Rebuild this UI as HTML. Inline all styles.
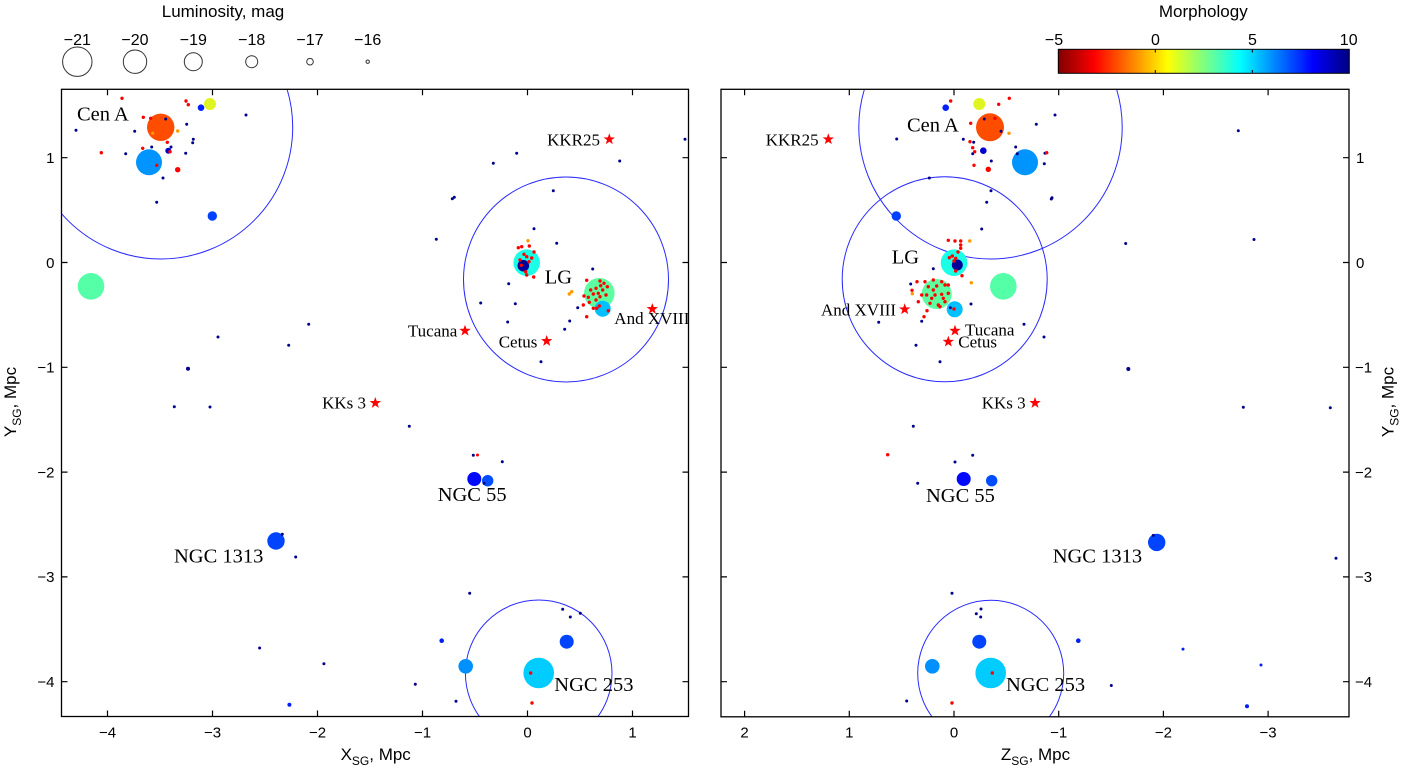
<!DOCTYPE html>
<html><head><meta charset="utf-8"><style>body{margin:0;background:#fff}svg{display:block}</style></head>
<body>
<svg width="1407" height="772" viewBox="0 0 1407 772" xmlns="http://www.w3.org/2000/svg">
<defs>
<clipPath id="cl"><rect x="61.5" y="89.3" width="627" height="627.2"/></clipPath>
<clipPath id="cr"><rect x="721" y="89.3" width="628" height="627.5"/></clipPath>
<linearGradient id="jet" x1="0" y1="0" x2="1" y2="0">
<stop offset="0" stop-color="#800000"/><stop offset="0.125" stop-color="#ff0000"/><stop offset="0.375" stop-color="#ffff00"/><stop offset="0.625" stop-color="#00ffff"/><stop offset="0.875" stop-color="#0000ff"/><stop offset="1" stop-color="#000080"/>
</linearGradient>
<path id="star" d="M0,-6 L1.411,-1.942 L5.706,-1.854 L2.283,0.742 L3.527,4.854 L0,2.4 L-3.527,4.854 L-2.283,0.742 L-5.706,-1.854 L-1.411,-1.942 Z" fill="#ff0000"/>
</defs>

<!-- Luminosity legend -->
<g font-family="Liberation Sans, Arial, sans-serif" fill="#000">
<text x="223" y="17" font-size="17" text-anchor="middle">Luminosity, mag</text>
<g font-size="16" text-anchor="middle">
<text x="77.3" y="45">−21</text><text x="135" y="45">−20</text><text x="193.3" y="45">−19</text><text x="251.7" y="45">−18</text><text x="310" y="45">−17</text><text x="367.7" y="45">−16</text>
</g>
<text x="1203.3" y="17" font-size="17" text-anchor="middle">Morphology</text>
<g font-size="16" text-anchor="middle">
<text x="1054" y="45">−5</text><text x="1155.5" y="45">0</text><text x="1252.5" y="45">5</text><text x="1348.7" y="45">10</text>
</g>
</g>
<g fill="none" stroke="#333" stroke-width="1">
<circle cx="77.3" cy="61.7" r="14.7"/><circle cx="135" cy="61.7" r="11.7"/><circle cx="193.3" cy="61.7" r="9"/><circle cx="251.7" cy="61.7" r="6"/><circle cx="310" cy="61.7" r="3.3"/><circle cx="367.7" cy="61.7" r="1.7"/>
</g>
<rect x="1058.3" y="49.3" width="291" height="24" fill="url(#jet)" stroke="#000" stroke-width="1"/>
<g stroke="#000" stroke-width="1">
<line x1="1155.3" y1="49.3" x2="1155.3" y2="52.5"/><line x1="1155.3" y1="73.3" x2="1155.3" y2="70"/>
<line x1="1252.3" y1="49.3" x2="1252.3" y2="52.5"/><line x1="1252.3" y1="73.3" x2="1252.3" y2="70"/>
</g>

<!-- LEFT PANEL -->
<g clip-path="url(#cl)">
<g fill="none" stroke="#2a2aff" stroke-width="1">
<circle cx="161" cy="127.3" r="131.7"/><circle cx="566" cy="279.5" r="102.5"/><circle cx="538.7" cy="673.3" r="73.3"/>
</g>
<circle cx="160.7" cy="127.3" r="13.7" fill="#ff4d00"/>
<circle cx="149" cy="162.3" r="13" fill="#0094ff"/>
<circle cx="210" cy="104" r="6" fill="#e0f520"/>
<circle cx="201" cy="107.7" r="3.3" fill="#0020ff"/>
<circle cx="168.3" cy="150.7" r="3" fill="#0000cc"/>
<circle cx="212.3" cy="216" r="4.7" fill="#0040ff"/>
<circle cx="91" cy="286.3" r="13.3" fill="#55ffa8"/>
<circle cx="526.7" cy="262.7" r="13.3" fill="#1affe6"/>
<circle cx="523.3" cy="265.7" r="5.8" fill="#00009a"/>
<circle cx="599.3" cy="293.3" r="15.3" fill="#5dffa1"/>
<circle cx="602.7" cy="308.7" r="8" fill="#00c0ff"/>
<circle cx="474.3" cy="479" r="7" fill="#0008ff"/>
<circle cx="487.7" cy="480.7" r="5.7" fill="#004dff"/>
<circle cx="276" cy="541" r="8.7" fill="#0044ff"/>
<circle cx="538.7" cy="673" r="15.3" fill="#00ccff"/>
<circle cx="566.7" cy="641.7" r="7" fill="#0044ff"/>
<circle cx="465.7" cy="666.3" r="7.3" fill="#0090ff"/>
<g fill="#00008b">
<circle cx="76" cy="130.3" r="1.5"/><circle cx="134.7" cy="131.3" r="1.5"/><circle cx="165.7" cy="119" r="1.5"/><circle cx="186.7" cy="124.3" r="1.5"/><circle cx="246" cy="115" r="1.5"/><circle cx="125.7" cy="153.7" r="1.5"/><circle cx="151.7" cy="147" r="1.5"/><circle cx="171" cy="147" r="1.5"/><circle cx="185.7" cy="153.3" r="1.5"/><circle cx="192.7" cy="142.7" r="1.5"/><circle cx="193.3" cy="139.3" r="1.5"/><circle cx="163" cy="178" r="1.5"/><circle cx="156.7" cy="202.3" r="1.5"/><circle cx="454.3" cy="197.3" r="1.5"/><circle cx="452.3" cy="198.7" r="1.5"/><circle cx="436.3" cy="239.3" r="1.5"/><circle cx="308.7" cy="324.3" r="1.5"/><circle cx="218" cy="337" r="1.5"/><circle cx="288.7" cy="345.3" r="1.5"/><circle cx="188" cy="368.7" r="2"/><circle cx="174.3" cy="406.7" r="1.5"/><circle cx="210" cy="407" r="1.5"/><circle cx="409.3" cy="426.3" r="1.5"/><circle cx="473.3" cy="455.3" r="1.5"/><circle cx="295.7" cy="557" r="1.5"/><circle cx="282.3" cy="534.3" r="1.5"/><circle cx="469.7" cy="593.3" r="1.5"/><circle cx="685" cy="139.3" r="1.5"/><circle cx="516.7" cy="153.3" r="1.5"/><circle cx="493.3" cy="163.3" r="1.5"/><circle cx="619.7" cy="161" r="1.5"/><circle cx="553.3" cy="190.7" r="1.5"/><circle cx="534" cy="228.7" r="1.5"/><circle cx="556.7" cy="243.3" r="1.5"/><circle cx="592.7" cy="269" r="1.5"/><circle cx="508.7" cy="283.7" r="1.5"/><circle cx="480.7" cy="303" r="1.5"/><circle cx="515.3" cy="303.7" r="1.5"/><circle cx="507.7" cy="322" r="1.5"/><circle cx="577.7" cy="307.7" r="1.5"/><circle cx="569.7" cy="321" r="1.5"/><circle cx="564.7" cy="329.3" r="1.5"/><circle cx="541" cy="361.7" r="1.5"/><circle cx="502.3" cy="461.7" r="1.5"/><circle cx="484" cy="483.3" r="1.5"/><circle cx="562.7" cy="609.3" r="1.5"/><circle cx="570.3" cy="617" r="1.5"/><circle cx="580.3" cy="613.3" r="1.5"/><circle cx="415.3" cy="684.3" r="1.5"/><circle cx="259.6" cy="648" r="1.5"/><circle cx="323.9" cy="663.7" r="1.5"/><circle cx="456" cy="701.3" r="1.5"/>
</g>
<g fill="#0020ee"><circle cx="441.7" cy="640.7" r="2.3"/><circle cx="289.4" cy="704.7" r="2"/></g>
<g fill="#ff9900"><circle cx="152.7" cy="133.3" r="1.7"/><circle cx="177.7" cy="131" r="1.7"/><circle cx="571.7" cy="291.7" r="1.7"/><circle cx="569.3" cy="294" r="1.7"/><circle cx="528" cy="240.7" r="1.7"/></g>
<g fill="#ff0000">
<circle cx="122" cy="98.3" r="1.7"/><circle cx="186" cy="101" r="1.7"/><circle cx="188.3" cy="104.7" r="1.7"/><circle cx="143.3" cy="117.3" r="1.7"/><circle cx="150.7" cy="118.3" r="1.7"/><circle cx="101.3" cy="152.7" r="1.7"/><circle cx="142.7" cy="148.3" r="1.7"/><circle cx="167.3" cy="142.3" r="1.7"/><circle cx="170" cy="151.7" r="1.7"/><circle cx="156.7" cy="165.3" r="1.7"/><circle cx="477.5" cy="455" r="1.5"/><circle cx="530.7" cy="673" r="1.7"/><circle cx="532" cy="703" r="1.7"/>
<circle cx="177.7" cy="169.7" r="2.7"/>
<circle cx="518.3" cy="247.7" r="1.7"/><circle cx="521.7" cy="246.7" r="1.7"/><circle cx="529.3" cy="246" r="1.7"/><circle cx="524" cy="254.3" r="1.7"/><circle cx="526.7" cy="256.7" r="1.7"/><circle cx="531.7" cy="258" r="1.7"/><circle cx="529" cy="261.7" r="1.7"/><circle cx="521.3" cy="265.3" r="1.7"/><circle cx="525.7" cy="271.7" r="1.7"/><circle cx="526.7" cy="275" r="1.7"/><circle cx="533.7" cy="277" r="1.7"/><circle cx="534" cy="252" r="1.7"/><circle cx="520" cy="260" r="1.7"/>
<circle cx="586.7" cy="280.3" r="1.7"/><circle cx="600" cy="281" r="1.7"/><circle cx="604" cy="283.3" r="1.7"/><circle cx="607.3" cy="286.7" r="1.7"/><circle cx="600.7" cy="285.7" r="1.7"/><circle cx="596" cy="288.3" r="1.7"/><circle cx="602.7" cy="290" r="1.7"/><circle cx="590.7" cy="290" r="1.7"/><circle cx="598.3" cy="293.3" r="1.7"/><circle cx="593.3" cy="294" r="1.7"/><circle cx="584" cy="296" r="1.7"/><circle cx="588.3" cy="297.3" r="1.7"/><circle cx="600" cy="296.7" r="1.7"/><circle cx="606" cy="295" r="1.7"/><circle cx="596" cy="300" r="1.7"/><circle cx="583.3" cy="305" r="1.7"/><circle cx="589.3" cy="302.3" r="1.7"/><circle cx="596.7" cy="308.3" r="1.7"/><circle cx="599.3" cy="306" r="1.7"/><circle cx="608.3" cy="310.7" r="1.7"/><circle cx="586.7" cy="316.7" r="1.7"/><circle cx="593.3" cy="308.3" r="1.7"/>
</g>
<use href="#star" x="609.3" y="139.3"/><use href="#star" x="652.3" y="309"/><use href="#star" x="465" y="330.7"/><use href="#star" x="546.7" y="341"/><use href="#star" x="375.3" y="403"/>
</g>
<g font-family="Liberation Serif, Times New Roman, serif" fill="#000">
<g font-size="17">
<text x="600" y="145.7" text-anchor="end">KKR25</text>
<text x="457.3" y="336.7" text-anchor="end">Tucana</text>
<text x="498.7" y="347.3">Cetus</text>
<text x="614.3" y="324">And XVIII</text>
<text x="366" y="408.7" text-anchor="end">KKs 3</text>
</g>
<g font-size="20.5">
<text x="544.7" y="283.3">LG</text>
<text x="77" y="120.5">Cen A</text>
<text x="437.7" y="501">NGC 55</text>
<text x="174" y="562.7">NGC 1313</text>
<text x="554.3" y="691">NGC 253</text>
</g>
</g>
<rect x="61.5" y="89.3" width="627" height="627.2" fill="none" stroke="#000" stroke-width="1.3"/>
<g stroke="#000" stroke-width="1.2">
<path d="M107.5,89.3v6M212.5,89.3v6M317.5,89.3v6M422.5,89.3v6M527.5,89.3v6M632.5,89.3v6M107.5,716.5v-6M212.5,716.5v-6M317.5,716.5v-6M422.5,716.5v-6M527.5,716.5v-6M632.5,716.5v-6"/>
<path d="M61.5,157.7h6M61.5,262.5h6M61.5,367.3h6M61.5,472.1h6M61.5,576.9h6M61.5,681.7h6M688.5,157.7h-6M688.5,262.5h-6M688.5,367.3h-6M688.5,472.1h-6M688.5,576.9h-6M688.5,681.7h-6"/>
</g>
<g font-family="Liberation Sans, Arial, sans-serif" font-size="15" fill="#000">
<g text-anchor="middle">
<text x="107.5" y="737.5">−4</text><text x="212.5" y="737.5">−3</text><text x="317.5" y="737.5">−2</text><text x="422.5" y="737.5">−1</text><text x="527.5" y="737.5">0</text><text x="632.5" y="737.5">1</text>
</g>
<g text-anchor="end">
<text x="54.5" y="163">1</text><text x="54.5" y="267.8">0</text><text x="54.5" y="372.6">−1</text><text x="54.5" y="477.4">−2</text><text x="54.5" y="582.2">−3</text><text x="54.5" y="687">−4</text>
</g>
</g>
<g font-family="Liberation Sans, Arial, sans-serif" font-size="17" fill="#000">
<text x="375.7" y="760" text-anchor="middle">X<tspan font-size="12" dy="5">SG</tspan><tspan dy="-5">, Mpc</tspan></text>
<text transform="translate(16,402) rotate(-90)" text-anchor="middle">Y<tspan font-size="12" dy="5">SG</tspan><tspan dy="-5">, Mpc</tspan></text>
</g>

<!-- RIGHT PANEL -->
<g clip-path="url(#cr)">
<g fill="none" stroke="#2a2aff" stroke-width="1">
<circle cx="990.5" cy="127.3" r="131.7"/><circle cx="944.7" cy="279.3" r="102.5"/><circle cx="990.7" cy="673.3" r="73"/>
</g>
<circle cx="990" cy="127.3" r="14" fill="#ff4d00"/>
<circle cx="979.3" cy="104" r="6" fill="#e0f520"/>
<circle cx="945.7" cy="107.7" r="3.3" fill="#0020ff"/>
<circle cx="1025" cy="162.3" r="13" fill="#0094ff"/>
<circle cx="983.3" cy="150.7" r="3.3" fill="#0000cc"/>
<circle cx="896.3" cy="216" r="4.7" fill="#0040ff"/>
<circle cx="954" cy="262.7" r="13.3" fill="#1affe6"/>
<circle cx="957.3" cy="265" r="5.5" fill="#00009a"/>
<circle cx="1003.3" cy="286.3" r="13.3" fill="#55ffa8"/>
<circle cx="936.7" cy="294" r="15" fill="#5dffa1"/>
<circle cx="954.7" cy="309.3" r="8" fill="#00c0ff"/>
<circle cx="963.7" cy="479" r="7" fill="#0008ff"/>
<circle cx="991.7" cy="480.7" r="5.7" fill="#004dff"/>
<circle cx="1156.7" cy="542.4" r="8.7" fill="#0044ff"/>
<circle cx="990.7" cy="673" r="15.3" fill="#00ccff"/>
<circle cx="979.3" cy="641.7" r="7" fill="#0044ff"/>
<circle cx="932.3" cy="666.3" r="7.3" fill="#0090ff"/>
<g fill="#00008b">
<circle cx="896.7" cy="139" r="1.5"/><circle cx="984.3" cy="119" r="1.5"/><circle cx="1001" cy="131.3" r="1.5"/><circle cx="963.3" cy="139.3" r="1.5"/><circle cx="973.7" cy="142.3" r="1.5"/><circle cx="972.7" cy="153.7" r="1.5"/><circle cx="991.3" cy="161" r="1.5"/><circle cx="1015.7" cy="147" r="1.5"/><circle cx="1017.3" cy="153.7" r="1.5"/><circle cx="1045" cy="153.3" r="1.5"/><circle cx="1044.3" cy="163.7" r="1.5"/><circle cx="1036.3" cy="124.3" r="1.5"/><circle cx="1055" cy="115" r="1.5"/><circle cx="929.3" cy="178" r="1.5"/><circle cx="991" cy="190.7" r="1.5"/><circle cx="1052" cy="197.7" r="1.5"/><circle cx="1051.3" cy="199" r="1.5"/><circle cx="986.7" cy="202.3" r="1.5"/><circle cx="981.7" cy="229" r="1.5"/><circle cx="933.3" cy="268.7" r="1.5"/><circle cx="910.7" cy="284" r="1.5"/><circle cx="971" cy="304" r="1.5"/><circle cx="921.7" cy="321.3" r="1.5"/><circle cx="878.7" cy="322.3" r="1.5"/><circle cx="1024" cy="324.3" r="1.5"/><circle cx="1044" cy="337" r="1.5"/><circle cx="916" cy="345.3" r="1.5"/><circle cx="940" cy="361.7" r="1.5"/><circle cx="913.3" cy="426.3" r="1.5"/><circle cx="955" cy="462" r="1.5"/><circle cx="972.7" cy="455.3" r="1.5"/><circle cx="917.7" cy="483.3" r="1.5"/><circle cx="952" cy="593.3" r="1.5"/><circle cx="981" cy="609" r="1.5"/><circle cx="976.3" cy="613.7" r="1.5"/><circle cx="980.7" cy="617" r="1.5"/><circle cx="906.7" cy="701" r="1.5"/><circle cx="1238.3" cy="130.7" r="1.5"/><circle cx="1125.7" cy="243.5" r="1.5"/><circle cx="1254" cy="239.5" r="1.5"/><circle cx="1128.3" cy="369" r="2"/><circle cx="1243.3" cy="407.2" r="1.5"/><circle cx="1330.3" cy="407.7" r="1.5"/><circle cx="1336" cy="558.2" r="1.5"/><circle cx="1111.3" cy="685.5" r="1.5"/><circle cx="1153.3" cy="535.4" r="1.5"/><circle cx="950.3" cy="307.7" r="1.5"/>
</g>
<g fill="#0020ee"><circle cx="1078.3" cy="640.7" r="2.3"/><circle cx="1183" cy="649.1" r="1.5"/><circle cx="1261" cy="665" r="1.5"/><circle cx="1247" cy="706.2" r="2"/></g>
<g fill="#ff9900"><circle cx="1009" cy="133.3" r="1.7"/><circle cx="969.7" cy="241" r="1.7"/><circle cx="912.3" cy="293.7" r="1.7"/><circle cx="971.3" cy="282.7" r="1.7"/></g>
<g fill="#ff0000">
<circle cx="950.7" cy="101" r="1.7"/><circle cx="998.7" cy="104.3" r="1.7"/><circle cx="1009.3" cy="98.3" r="1.7"/><circle cx="970.7" cy="123.3" r="1.7"/><circle cx="995" cy="118.3" r="1.7"/><circle cx="970" cy="141.7" r="1.7"/><circle cx="972.7" cy="147.7" r="1.7"/><circle cx="974.7" cy="151.7" r="1.7"/><circle cx="974" cy="165.3" r="1.7"/><circle cx="1046.7" cy="152.7" r="1.7"/><circle cx="887.7" cy="454.7" r="1.7"/><circle cx="992.3" cy="673" r="1.7"/><circle cx="952" cy="703" r="1.7"/><circle cx="912" cy="290.3" r="1.7"/><circle cx="917" cy="281.7" r="1.7"/><circle cx="927" cy="310.7" r="1.7"/><circle cx="924" cy="316.7" r="1.7"/><circle cx="954" cy="309" r="1.7"/>
<circle cx="988.3" cy="169.3" r="2.7"/>
<circle cx="948.3" cy="240.3" r="1.7"/><circle cx="955" cy="241" r="1.7"/><circle cx="960.7" cy="241" r="1.7"/><circle cx="960.7" cy="245" r="1.7"/><circle cx="960.7" cy="248.3" r="1.7"/><circle cx="949.3" cy="257.7" r="1.7"/><circle cx="952.3" cy="256" r="1.7"/><circle cx="955.7" cy="258.3" r="1.7"/><circle cx="954" cy="261" r="1.7"/><circle cx="962" cy="275.7" r="1.7"/><circle cx="955.7" cy="271" r="1.7"/><circle cx="958" cy="252" r="1.7"/>
<circle cx="925" cy="281.7" r="1.7"/><circle cx="933.3" cy="280" r="1.7"/><circle cx="941.7" cy="281.7" r="1.7"/><circle cx="945" cy="285" r="1.7"/><circle cx="928.3" cy="286.7" r="1.7"/><circle cx="936.7" cy="286" r="1.7"/><circle cx="948.3" cy="293.3" r="1.7"/><circle cx="941.7" cy="294.3" r="1.7"/><circle cx="935" cy="295" r="1.7"/><circle cx="926.7" cy="295" r="1.7"/><circle cx="921.7" cy="295" r="1.7"/><circle cx="931.7" cy="298.3" r="1.7"/><circle cx="943.3" cy="298.3" r="1.7"/><circle cx="930" cy="303.3" r="1.7"/><circle cx="938.3" cy="305" r="1.7"/><circle cx="945" cy="301.7" r="1.7"/><circle cx="918.3" cy="301.7" r="1.7"/><circle cx="940" cy="306.7" r="1.7"/><circle cx="933.3" cy="290" r="1.7"/><circle cx="948.3" cy="285" r="1.7"/>
</g>
<use href="#star" x="828.3" y="139.3"/><use href="#star" x="904.7" y="309.3"/><use href="#star" x="955" y="330.7"/><use href="#star" x="948.3" y="341.7"/><use href="#star" x="1035" y="403"/>
</g>
<g font-family="Liberation Serif, Times New Roman, serif" fill="#000">
<g font-size="17">
<text x="765.7" y="145.7">KKR25</text>
<text x="821" y="315.7">And XVIII</text>
<text x="965" y="335.7">Tucana</text>
<text x="958.3" y="347.3">Cetus</text>
<text x="981.7" y="408.3">KKs 3</text>
</g>
<g font-size="20.5">
<text x="907" y="131.7">Cen A</text>
<text x="891.7" y="263.3">LG</text>
<text x="926" y="502">NGC 55</text>
<text x="1052.7" y="562.3">NGC 1313</text>
<text x="1006" y="691">NGC 253</text>
</g>
</g>
<rect x="721" y="89.3" width="628" height="627.5" fill="none" stroke="#000" stroke-width="1.3"/>
<g stroke="#000" stroke-width="1.2">
<path d="M744.6,89.3v6M849.3,89.3v6M954,89.3v6M1058.7,89.3v6M1163.4,89.3v6M1268.1,89.3v6M744.6,716.8v-6M849.3,716.8v-6M954,716.8v-6M1058.7,716.8v-6M1163.4,716.8v-6M1268.1,716.8v-6"/>
<path d="M721,157.7h6M721,262.5h6M721,367.3h6M721,472.1h6M721,576.9h6M721,681.7h6M1349,157.7h-6M1349,262.5h-6M1349,367.3h-6M1349,472.1h-6M1349,576.9h-6M1349,681.7h-6"/>
</g>
<g font-family="Liberation Sans, Arial, sans-serif" font-size="15" fill="#000">
<g text-anchor="middle">
<text x="744.6" y="737.5">2</text><text x="849.3" y="737.5">1</text><text x="954" y="737.5">0</text><text x="1058.7" y="737.5">−1</text><text x="1163.4" y="737.5">−2</text><text x="1268.1" y="737.5">−3</text>
</g>
<g>
<text x="1356" y="163">1</text><text x="1356" y="267.8">0</text><text x="1355" y="372.6">−1</text><text x="1355" y="477.4">−2</text><text x="1355" y="582.2">−3</text><text x="1355" y="687">−4</text>
</g>
</g>
<g font-family="Liberation Sans, Arial, sans-serif" font-size="17" fill="#000">
<text x="1035.5" y="760" text-anchor="middle">Z<tspan font-size="12" dy="5">SG</tspan><tspan dy="-5">, Mpc</tspan></text>
<text transform="translate(1393.5,402) rotate(-90)" text-anchor="middle">Y<tspan font-size="12" dy="5">SG</tspan><tspan dy="-5">, Mpc</tspan></text>
</g>
</svg>
</body></html>
